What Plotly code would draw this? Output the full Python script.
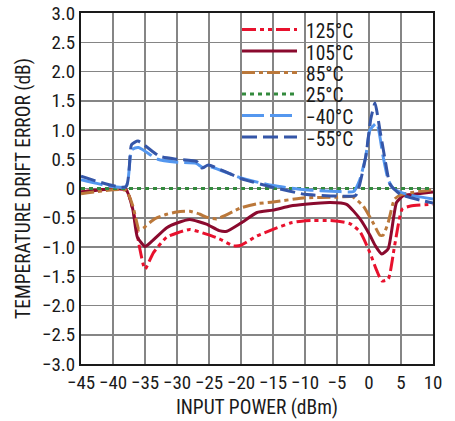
import plotly.graph_objects as go

# ---- data ----
x_125 = [-45, -38, -36.8, -35.9, -35, -33.7, -31.6, -30, -28, -25.4, -23.4, -21.2, -20, -17.5, -15, -12.3, -10, -5.6, -3, -1.4, 0.15, 1.2, 2.0, 3.0, 4.0, 5.2, 6.5, 10]
y_125 = [-0.06, -0.02, -0.4, -0.98, -1.38, -1.1, -0.83, -0.76, -0.70, -0.78, -0.86, -0.98, -0.97, -0.81, -0.70, -0.59, -0.55, -0.55, -0.60, -0.74, -1.1, -1.4, -1.58, -1.55, -0.98, -0.35, -0.30, -0.27]

x_105 = [-45, -38, -36.9, -36.2, -35, -34.2, -31.6, -30, -28, -25.4, -23.4, -22.2, -20, -17.5, -15, -12.3, -10, -6.1, -3.5, -1.4, 0.15, 1.0, 2.0, 3.0, 4.3, 5.4, 7, 10]
y_105 = [-0.06, -0.02, -0.36, -0.83, -0.99, -0.93, -0.67, -0.59, -0.53, -0.61, -0.72, -0.73, -0.59, -0.41, -0.37, -0.30, -0.27, -0.24, -0.27, -0.52, -0.80, -0.98, -1.12, -1.03, -0.24, -0.12, -0.10, -0.06]

x_85 = [-45, -38, -36.9, -35.9, -35.3, -33.5, -31.6, -30, -28, -26.4, -25.4, -23.8, -20, -17.5, -15, -10, -5, -2.6, -0.9, 0.7, 1.7, 2.2, 3.0, 4.0, 5.2, 10]
y_85 = [-0.09, -0.03, -0.30, -0.71, -0.68, -0.52, -0.44, -0.40, -0.39, -0.44, -0.49, -0.52, -0.33, -0.26, -0.23, -0.16, -0.15, -0.14, -0.30, -0.60, -0.80, -0.80, -0.58, -0.18, -0.10, -0.02]

x_25 = [-45, 10]
y_25 = [0.0, 0.0]

x_m40 = [-45, -38, -37.1, -36, -33, -30, -27, -26, -25, -20, -15, -10, -5, -2.4, -1.5, -0.5, 0.15, 1.2, 2.2, 3.0, 3.8, 5.9, 10]
y_m40 = [0.15, 0.03, 0.66, 0.70, 0.50, 0.45, 0.43, 0.36, 0.38, 0.18, 0.05, -0.02, -0.05, -0.05, 0.13, 0.55, 1.0, 1.12, 0.55, 0.15, 0.0, -0.10, -0.18]

x_m55 = [-45, -38, -37.1, -36.1, -32.7, -30, -26.9, -26.1, -25.1, -20, -15, -10, -5, -2.1, -1.5, -0.5, 0.3, 0.94, 1.7, 2.5, 3.3, 4.9, 10]
y_m55 = [0.21, 0.03, 0.75, 0.81, 0.55, 0.50, 0.46, 0.35, 0.40, 0.17, 0.02, -0.10, -0.13, -0.12, 0.05, 0.55, 1.2, 1.46, 1.0, 0.5, 0.07, -0.10, -0.25]

names = ["125°C", "105°C", "85°C", "25°C", "\u221240°C", "\u221255°C"]
colors = ["#e8112d", "#8a0a2e", "#bb783a", "#338a3d", "#5497ef", "#3556a8"]
dashes = ["14px,4px,4px,4px,4px,4px", "solid", "13px,4px,4px,4px", "4px,4px", "22px,6px", "15px,6px"]

xt_vals = [-45, -40, -35, -30, -25, -20, -15, -10, -5, 0, 5, 10]
xt_text = ["\u221245", "\u221240", "\u221235", "\u221230", "\u221225", "\u221220", "\u221215", "\u221210", "\u22125", "0", "5", "10"]
yt_vals = [3.0, 2.5, 2.0, 1.5, 1.0, 0.5, 0, -0.5, -1.0, -1.5, -2.0, -2.5, -3.0]
yt_text = ["3.0", "2.5", "2.0", "1.5", "1.0", "0.5", "0", "\u22120.5", "\u22121.0", "\u22121.5", "\u22122.0", "\u22122.5", "\u22123.0"]

series = [(x_125, y_125), (x_105, y_105), (x_85, y_85), (x_25, y_25), (x_m40, y_m40), (x_m55, y_m55)]

FONT = "Roboto Condensed, Roboto, sans-serif"
W, H = 455, 421
ML, MR, MT, MB = 81, 22, 13, 57
PW, PH = W - ML - MR, H - MT - MB

fig = go.Figure()
for i in range(len(series)):
    xs, ys = series[i]
    fig.add_trace(go.Scatter(
        x=xs, y=ys, mode="lines", name=names[i], showlegend=False,
        line=dict(color=colors[i], width=3, dash=dashes[i], shape="spline", smoothing=0.5),
    ))

# ---- legend drawn as layout decoration (paper coordinates) ----
def px_to_paper_x(px):
    return (px - ML) / PW

def py_to_paper_y(py):
    return 1 - (py - MT) / PH

shapes = [dict(type="rect", xref="paper", yref="paper", layer="between",
               x0=px_to_paper_x(232), x1=px_to_paper_x(357),
               y0=py_to_paper_y(148), y1=py_to_paper_y(15),
               fillcolor="white", line=dict(width=0))]
annotations = []
row0, row_gap = 29.5, 21.5
for i, name in enumerate(names):
    py = row0 + row_gap * i
    shapes.append(dict(type="line", xref="paper", yref="paper", layer="above",
                       x0=px_to_paper_x(242), x1=px_to_paper_x(297),
                       y0=py_to_paper_y(py), y1=py_to_paper_y(py),
                       line=dict(color=colors[i], width=3, dash=dashes[i])))
    annotations.append(dict(xref="paper", yref="paper", x=px_to_paper_x(305), y=py_to_paper_y(py + 2),
                            text=name, showarrow=False, xanchor="left", yanchor="middle",
                            height=21, borderpad=0,
                            font=dict(family=FONT, size=19.5, color="#1a1a1a")))

fig.update_layout(
    width=W, height=H,
    margin=dict(l=ML, r=MR, t=MT, b=MB, autoexpand=False),
    paper_bgcolor="white", plot_bgcolor="white",
    font=dict(family=FONT, size=19, color="#1a1a1a"),
    showlegend=False,
    shapes=shapes, annotations=annotations,
)
fig.update_xaxes(range=[-45, 10], tickvals=xt_vals, ticktext=xt_text, automargin=False,
                 tickangle=0,
                 showgrid=True, gridcolor="#858585", gridwidth=1.5,
                 showline=True, linecolor="#1a1a1a", linewidth=2, mirror=True,
                 ticks="", zeroline=False, tickfont=dict(size=19),
                 title=dict(text="INPUT POWER (dBm)", font=dict(family=FONT, size=19.5), standoff=8))
fig.update_yaxes(range=[-3, 3], tickvals=yt_vals, ticktext=yt_text, automargin=False,
                 showgrid=True, gridcolor="#858585", gridwidth=1.5,
                 showline=True, linecolor="#1a1a1a", linewidth=2, mirror=True,
                 ticks="", zeroline=False, tickfont=dict(size=19),
                 title=dict(text="TEMPERATURE DRIFT ERROR (dB)", font=dict(family=FONT, size=19.5), standoff=6))

fig.write_html("out.html", config={"displayModeBar": False, "staticPlot": True},
               post_script="document.body.style.margin='0';")
